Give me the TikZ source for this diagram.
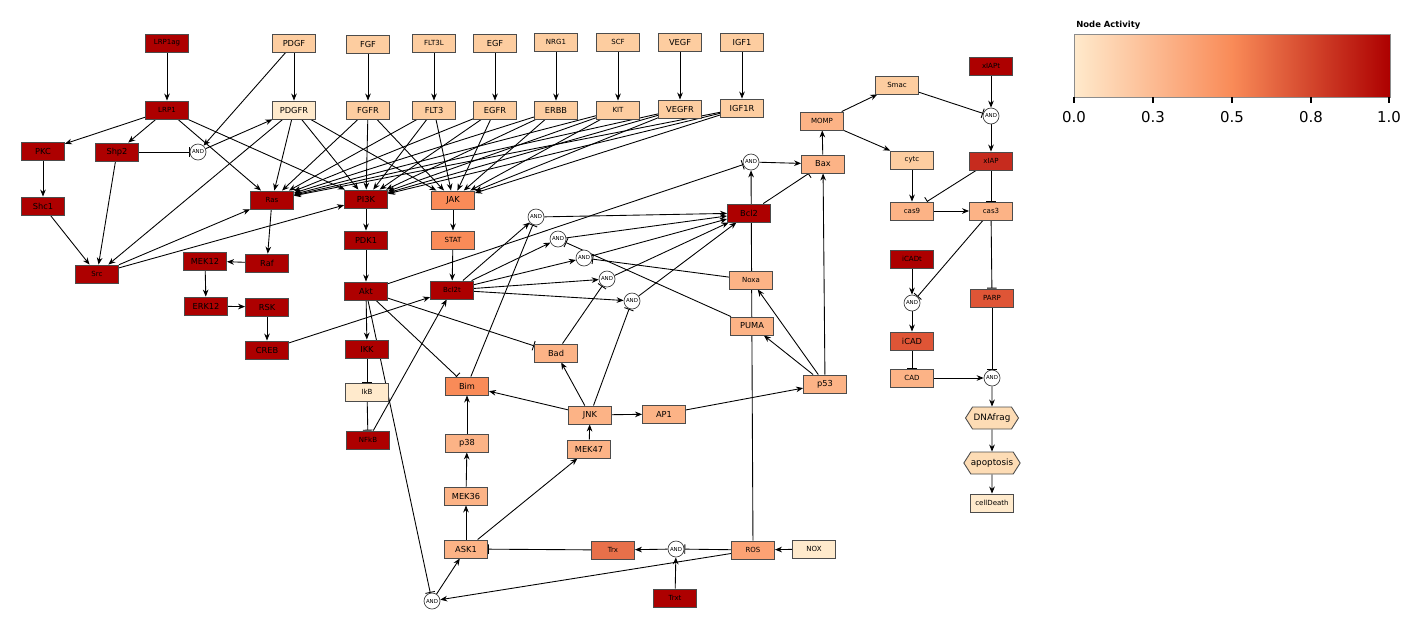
\documentclass[tikz,border=0pt]{standalone}
\usepackage{fontspec}
\setmainfont{DejaVu Sans}
\usetikzlibrary{arrows.meta, shapes.symbols, backgrounds}

\definecolor{act0}{HTML}{FFEACC}
\definecolor{act1}{HTML}{FDCDA0}
\definecolor{act2}{HTML}{FCB386}
\definecolor{act3}{HTML}{FCA274}
\definecolor{act4}{HTML}{F98B58}
\definecolor{act5}{HTML}{E8704A}
\definecolor{act6}{HTML}{DF5536}
\definecolor{act7}{HTML}{C62B1E}
\definecolor{act8}{HTML}{AD0000}
\definecolor{actH}{HTML}{FDDCB5}

\tikzset{
  gene/.style={draw=black!70, line width=0.5pt, minimum width=0.86cm, minimum height=0.36cm,
    inner sep=0pt, font=\fontsize{4.7}{5}\selectfont},
  smalltext/.style={font=\fontsize{4}{4.5}\selectfont},
  gate/.style={circle, draw=black!75, fill=white, line width=0.4pt, minimum size=0.32cm,
    inner sep=0pt, font=\fontsize{3.1}{3.5}\selectfont},
  pheno/.style={signal, signal to=east and west, signal pointer angle=115, draw=black!70,
    line width=0.5pt, minimum width=1.06cm, minimum height=0.44cm, inner sep=0pt,
    fill=actH, font=\fontsize{5}{5.5}\selectfont},
  act/.style={-{Stealth[length=4pt,width=3.2pt]}, line width=0.5pt},
  inh/.style={-{Bar[width=5.5pt]}, line width=0.5pt},
}

\begin{document}
\begin{tikzpicture}[x=0.02cm, y=-0.02cm]
  \useasboundingbox (0,0) rectangle (1415,623);

  % TOP: ligands and receptors
  \node[gene, smalltext, fill=act8] (lrpag) at (167,43) {LRP1ag};
  \node[gene, fill=act1] (pdgf)  at (294,43) {PDGF};
  \node[gene, fill=act1] (fgf)   at (368,44) {FGF};
  \node[gene, smalltext, fill=act1] (flt3l) at (434,43) {FLT3L};
  \node[gene, fill=act1] (egf)   at (495,43) {EGF};
  \node[gene, smalltext, fill=act1] (nrg1)  at (556,42) {NRG1};
  \node[gene, smalltext, fill=act1] (scf)   at (618,42) {SCF};
  \node[gene, fill=act1] (vegf)  at (680,42) {VEGF};
  \node[gene, fill=act1] (igf1)  at (742,42) {IGF1};

  \node[gene, smalltext, fill=act8] (lrp) at (167,110) {LRP1};
  \node[gene, fill=act0] (pdgfr) at (294,110) {PDGFR};
  \node[gene, fill=act1] (fgfr)  at (368,110) {FGFR};
  \node[gene, fill=act1] (flt3)  at (434,110) {FLT3};
  \node[gene, fill=act1] (egfr)  at (495,110) {EGFR};
  \node[gene, fill=act1] (erbb)  at (556,110) {ERBB};
  \node[gene, smalltext, fill=act1] (kit) at (618,110) {KIT};
  \node[gene, fill=act1] (vegfr) at (680,109) {VEGFR};
  \node[gene, fill=act1] (igfr)  at (742,108) {IGF1R};

  % LEFT: LRP1 branch, MAPK and Akt
  \node[gene, fill=act8] (pkc) at (43,151) {PKC};
  \node[gene, fill=act8] (shp) at (117,152) {Shp2};
  \node[gate] (andshp) at (198,152) {AND};
  \node[gene, fill=act8] (shc) at (43,206) {Shc1};
  \node[gene, smalltext, fill=act8] (src) at (97,274) {Src};
  \node[gene, smalltext, fill=act8] (ras) at (272,200) {Ras};
  \node[gene, fill=act8] (pik) at (366,199) {PI3K};
  \node[gene, fill=act4] (jak) at (453,200) {JAK};
  \node[gene, fill=act8] (raf) at (267,263) {Raf};
  \node[gene, fill=act8] (mek12) at (205,261) {MEK12};
  \node[gene, fill=act8] (erk12) at (206,306) {ERK12};
  \node[gene, fill=act8] (rsk) at (267,307) {RSK};
  \node[gene, fill=act8] (creb) at (267,350) {CREB};
  \node[gene, fill=act8] (pdk) at (366,240) {PDK1};
  \node[gene, fill=act8] (akt) at (366,291) {Akt};
  \node[gene, fill=act8] (ikk) at (367,349) {IKK};
  \node[gene, smalltext, fill=act0] (ikb) at (367,392) {IkB};
  \node[gene, smalltext, fill=act8] (nfkb) at (368,440) {NFkB};

  % MIDDLE: Bcl2 control
  \node[gene, smalltext, fill=act4] (stat) at (453,240) {STAT};
  \node[gene, smalltext, fill=act8] (bclt) at (452,290) {Bcl2t};
  \node[gate] (anda) at (536,217) {AND};
  \node[gate] (andb) at (558,239) {AND};
  \node[gate] (andc) at (584,258) {AND};
  \node[gate] (andd) at (607,279) {AND};
  \node[gate] (ande) at (632,301) {AND};
  \node[gene, fill=act8] (bcl) at (749,213) {Bcl2};
  \node[gene, smalltext, fill=act2] (noxa) at (751,280) {Noxa};
  \node[gene, fill=act2] (puma) at (752,326) {PUMA};
  \node[gene, fill=act2] (bad) at (556,353) {Bad};
  \node[gene, fill=act4] (bim) at (467,386) {Bim};
  \node[gene, fill=act2] (jnk) at (590,415) {JNK};
  \node[gene, fill=act2] (ap1) at (664,414) {AP1};
  \node[gene, fill=act2] (p53) at (825,384) {p53};

  % BOTTOM: stress kinases
  \node[gene, fill=act2] (p38) at (467,443) {p38};
  \node[gene, fill=act2] (mek36) at (466,496) {MEK36};
  \node[gene, fill=act2] (ask) at (466,549) {ASK1};
  \node[gene, fill=act2] (mek47) at (589,449) {MEK47};
  \node[gene, smalltext, fill=act5] (trx) at (613,550) {Trx};
  \node[gate] (andtrx) at (676,549) {AND};
  \node[gene, smalltext, fill=act3] (ros) at (753,550) {ROS};
  \node[gene, smalltext, fill=act0] (nox) at (814,549) {NOX};
  \node[gene, smalltext, fill=act8] (trxt) at (675,598) {Trxt};
  \node[gate] (andask) at (432,601) {AND};

  % RIGHT: mitochondria and caspases
  \node[gate] (andbax) at (751,162) {AND};
  \node[gene, fill=act2] (bax) at (823,164) {Bax};
  \node[gene, smalltext, fill=act2] (momp) at (822,121) {MOMP};
  \node[gene, smalltext, fill=act1] (smac) at (897,85) {Smac};
  \node[gene, smalltext, fill=act8] (xiapt) at (991,66) {xIAPt};
  \node[gate] (andxiap) at (991,116) {AND};
  \node[gene, smalltext, fill=act1] (cytc) at (912,160) {cytc};
  \node[gene, smalltext, fill=act7] (xiap) at (991,161) {xIAP};
  \node[gene, smalltext, fill=act2] (cas9) at (912,211) {cas9};
  \node[gene, smalltext, fill=act2] (cas3) at (991,211) {cas3};
  \node[gene, smalltext, fill=act8] (icadt) at (912,259) {iCADt};
  \node[gate] (andicad) at (912,303) {AND};
  \node[gene, fill=act6] (icad) at (912,341) {iCAD};
  \node[gene, smalltext, fill=act6] (parp) at (992,298) {PARP};
  \node[gene, smalltext, fill=act2] (cad) at (912,378) {CAD};
  \node[gate] (anddna) at (992,378) {AND};
  \node[pheno] (dnafrag) at (992,418) {DNAfrag};
  \node[pheno] (apop) at (992,463) {apoptosis};
  \node[gene, smalltext, fill=act0] (death) at (992,503) {cellDeath};

  % LEGEND
  \node[anchor=base west, inner sep=0pt, font=\bfseries\fontsize{4.8}{5}\selectfont] (legtitle) at (1076,27) {Node Activity};
  \shade[left color=act0, right color=act8, middle color=act4] (1074,34) rectangle (1390,97);
  \draw[black!45, line width=0.5pt] (1074,34) rectangle (1390,97);
  \foreach \x/\v in {1074/0.0, 1153/0.3, 1232/0.5, 1311/0.8, 1389/1.0}
    \draw[line width=0.7pt] (\x,97) -- (\x,103) node[below=1pt, font=\fontsize{8.5}{9}\selectfont] {\v};

  \begin{pgfonlayer}{background}
    % ligands to receptors
    \draw[act] (lrpag) -- (lrp);
    \draw[act] (pdgf) -- (pdgfr);
    \draw[act] (fgf) -- (fgfr);
    \draw[act] (flt3l) -- (flt3);
    \draw[act] (egf) -- (egfr);
    \draw[act] (nrg1) -- (erbb);
    \draw[act] (scf) -- (kit);
    \draw[act] (vegf) -- (vegfr);
    \draw[act] (igf1) -- (igfr);
    \draw[act] (pdgf) -- (andshp);
    \draw[inh] (shp) -- (andshp);
    \draw[act] (andshp) -- (pdgfr);

    % receptors to Ras, PI3K, JAK
    \foreach \r in {pdgfr,fgfr,flt3,egfr,erbb,kit,vegfr,igfr}
      \foreach \t in {ras,pik,jak}
        \draw[act] (\r) -- (\t);

    % LRP1 branch
    \draw[act] (lrp) -- (pkc);
    \draw[act] (lrp) -- (shp);
    \draw[act] (lrp) -- (ras);
    \draw[act] (lrp) -- (pik);
    \draw[act] (pkc) -- (shc);
    \draw[act] (shc) -- (src);
    \draw[act] (shp) -- (src);
    \draw[act] (pdgfr) -- (src);
    \draw[act] (src) -- (ras);
    \draw[act] (src) -- (pik);

    % MAPK and Akt
    \draw[act] (ras) -- (raf);
    \draw[act] (raf) -- (mek12);
    \draw[act] (mek12) -- (erk12);
    \draw[act] (erk12) -- (rsk);
    \draw[act] (rsk) -- (creb);
    \draw[act] (creb) -- (bclt);
    \draw[act] (pik) -- (pdk);
    \draw[act] (pdk) -- (akt);
    \draw[act] (akt) -- (ikk);
    \draw[inh] (ikk) -- (ikb);
    \draw[inh] (ikb) -- (nfkb);
    \draw[act] (nfkb) -- (bclt);
    \draw[inh] (akt) -- (bim);
    \draw[inh] (akt) -- (bad);
    \draw[inh] (akt) -- (andask);
    \draw[inh] (akt) -- (andbax);
    \draw[act] (jak) -- (stat);
    \draw[act] (stat) -- (bclt);

    % Bcl2 gates
    \foreach \g in {anda,andb,andc,andd,ande} {
      \draw[act] (bclt) -- (\g);
      \draw[act] (\g) -- (bcl);
    }
    \draw[inh] (bim) -- (anda);
    \draw[inh] (puma) -- (andb);
    \draw[inh] (noxa) -- (andc);
    \draw[inh] (bad) -- (andd);
    \draw[inh] (jnk) -- (ande);

    % stress kinases
    \draw[act] (nox) -- (ros);
    \draw[inh] (ros) -- (andtrx);
    \draw[act] (trxt) -- (andtrx);
    \draw[act] (andtrx) -- (trx);
    \draw[inh] (trx) -- (ask);
    \draw[act] (ros) -- (andask);
    \draw[act] (andask) -- (ask);
    \draw[act] (ask) -- (mek36);
    \draw[act] (mek36) -- (p38);
    \draw[act] (p38) -- (bim);
    \draw[act] (ask) -- (mek47);
    \draw[act] (mek47) -- (jnk);
    \draw[act] (jnk) -- (bim);
    \draw[act] (jnk) -- (bad);
    \draw[act] (jnk) -- (ap1);
    \draw[act] (ap1) -- (p53);
    \draw[act] (p53) -- (noxa);
    \draw[act] (p53) -- (puma);

    % mitochondria and caspases
    \draw[act] (ros) -- (andbax);
    \draw[act] (andbax) -- (bax);
    \draw[inh] (bcl) -- (bax);
    \draw[act] (p53) -- (bax);
    \draw[act] (bax) -- (momp);
    \draw[act] (momp) -- (smac);
    \draw[act] (momp) -- (cytc);
    \draw[inh] (smac) -- (andxiap);
    \draw[act] (xiapt) -- (andxiap);
    \draw[act] (andxiap) -- (xiap);
    \draw[inh] (xiap) -- (cas9);
    \draw[inh] (xiap) -- (cas3);
    \draw[act] (cytc) -- (cas9);
    \draw[act] (cas9) -- (cas3);
    \draw[inh] (cas3) -- (andicad);
    \draw[act] (icadt) -- (andicad);
    \draw[act] (andicad) -- (icad);
    \draw[inh] (icad) -- (cad);
    \draw[inh] (cas3) -- (parp);
    \draw[inh] (parp) -- (anddna);
    \draw[act] (cad) -- (anddna);
    \draw[act] (anddna) -- (dnafrag);
    \draw[act] (dnafrag) -- (apop);
    \draw[act] (apop) -- (death);
  \end{pgfonlayer}
\end{tikzpicture}
\end{document}
